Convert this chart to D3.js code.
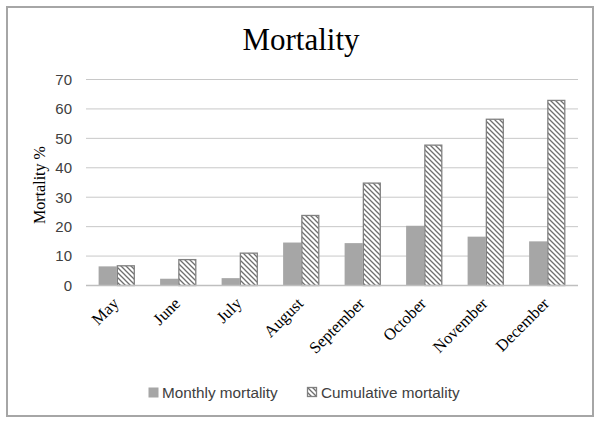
<!DOCTYPE html>
<html><head><meta charset="utf-8">
<script src="https://cdn.jsdelivr.net/npm/d3@7/dist/d3.min.js"></script>
<style>body{margin:0;background:#fff}svg{display:block}</style>
</head><body>
<script>
const months = ["May","June","July","August","September","October","November","December"];
const monthly = [6.5, 2.3, 2.5, 14.6, 14.4, 20.3, 16.6, 15.0];
const cumulative = [6.9, 9.0, 11.2, 24.0, 35.0, 47.9, 56.7, 63.1];
const yTicks = [0,10,20,30,40,50,60,70];
const seriesNames = ["Monthly mortality","Cumulative mortality"];

const W = 600, H = 423;
const svg = d3.select("body").append("svg").attr("width", W).attr("height", H);
const defs = svg.append("defs");
const pat = defs.append("pattern").attr("id","hatch").attr("patternUnits","userSpaceOnUse")
  .attr("width",5).attr("height",5);
pat.append("rect").attr("width",5).attr("height",5).attr("fill","#fff");
pat.append("path").attr("d","M-1,-1 L6,6 M-1,4 L1,6 M4,-1 L6,1").attr("stroke","#6f6f6f").attr("stroke-width",1.3);

svg.append("rect").attr("x",7).attr("y",7).attr("width",586).attr("height",409)
  .attr("fill","#fff").attr("stroke","#a6a6a6").attr("stroke-width",2);

const m = {l:86, r:578, t:79.5, b:285.5};
const x = d3.scaleBand().domain(months).range([m.l, m.r]).paddingInner(0.41).paddingOuter(0.205);
const y = d3.scaleLinear().domain([0,70]).range([m.b, m.t]);

svg.append("text").attr("x",301).attr("y",50).attr("text-anchor","middle")
  .attr("font-family","'Liberation Serif', 'DejaVu Serif', serif").attr("font-size",31).attr("fill","#000").text("Mortality");

// gridlines
svg.append("g").selectAll("line").data(yTicks.filter(d=>d>0)).join("line")
  .attr("x1",m.l).attr("x2",m.r).attr("y1",d=>y(d)).attr("y2",d=>y(d))
  .attr("stroke","#c8c8c8").attr("stroke-width",1);

// y axis labels
const ya = svg.append("g").attr("transform",`translate(${m.l},0)`)
  .call(d3.axisLeft(y).tickValues(yTicks).tickSize(0).tickPadding(14));
ya.select(".domain").remove();
ya.selectAll("text").attr("font-family","'Liberation Sans', Arial, sans-serif").attr("font-size",15).attr("fill","#404040");

svg.append("text").attr("transform",`translate(45,185) rotate(-90)`).attr("text-anchor","middle")
  .attr("font-family","'Liberation Serif', 'DejaVu Serif', serif").attr("font-size",16).attr("fill","#000").text("Mortality %");

const bw = x.bandwidth()/2;
const g = svg.append("g");
g.selectAll("rect.m").data(months).join("rect").attr("class","m")
  .attr("x",d=>x(d)).attr("width",bw)
  .attr("y",(d,i)=>y(monthly[i])).attr("height",(d,i)=>y(0)-y(monthly[i]))
  .attr("fill","#a6a6a6");
g.selectAll("rect.c").data(months).join("rect").attr("class","c")
  .attr("x",d=>x(d)+bw+0.6).attr("width",bw-1.2)
  .attr("y",(d,i)=>y(cumulative[i])+0.6).attr("height",(d,i)=>y(0)-y(cumulative[i])-0.6)
  .attr("fill","url(#hatch)").attr("stroke","#808080").attr("stroke-width",1.3);

// baseline
svg.append("line").attr("x1",m.l).attr("x2",m.r).attr("y1",y(0)).attr("y2",y(0))
  .attr("stroke","#bfbfbf").attr("stroke-width",1.5);

// category labels
const xa = svg.append("g").attr("transform",`translate(0,${m.b})`)
  .call(d3.axisBottom(x).tickSize(0));
xa.select(".domain").remove();
xa.selectAll("text")
  .attr("font-family","'Liberation Serif', 'DejaVu Serif', serif").attr("font-size",16.5).attr("fill","#000")
  .attr("text-anchor","end").attr("dy",null).attr("y",0)
  .attr("transform","translate(3,19) rotate(-45)");

// legend
const lg = svg.append("g").attr("font-family","'Liberation Sans', Arial, sans-serif").attr("font-size",15.3).attr("fill","#404040");
const lx = [148, 307];
seriesNames.forEach((s,i)=>{
  lg.append("rect").attr("x",lx[i]+0.5).attr("y",387.5).attr("width",i?9:10).attr("height",i?9:10)
    .attr("fill", i? "url(#hatch)":"#a6a6a6").attr("stroke", i? "#808080":"none").attr("stroke-width",1.3);
  lg.append("text").attr("x",lx[i]+14).attr("y",397.5).text(s);
});
</script>
</body></html>
